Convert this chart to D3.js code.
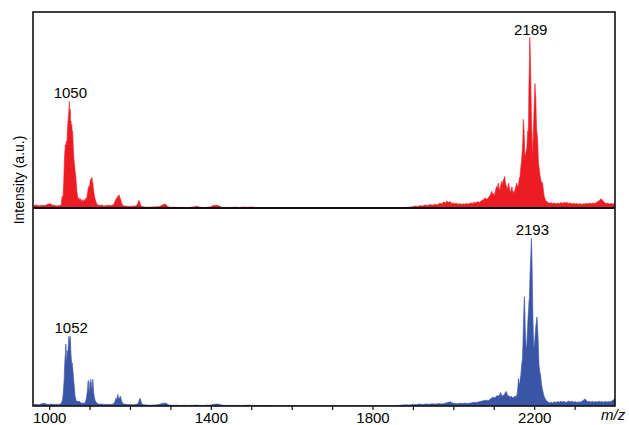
<!DOCTYPE html>
<html>
<head>
<meta charset="utf-8">
<script src="https://cdn.jsdelivr.net/npm/d3@7"></script>
<style>
  html, body { margin: 0; padding: 0; background: #fff; }
  svg { display: block; font-family: "Liberation Sans", Arial, sans-serif; }
</style>
</head>
<body>
<svg id="chart" width="629" height="425"></svg>
<script>
// ---------- data (m/z, relative intensity) ----------
const redSpectrum = [
[960,0],[962,1.5],[968,1.8],[975,1.2],[982,1.6],[990,1.4],[996,2.2],[1002,2.5],[1008,1.8],[1014,1.5],[1020,1.2],[1026,1.4],[1030,2],
[1032,7],[1034,5],[1036,15],[1038,30],[1040,37],[1041,34],[1042,39],[1044,38],[1045,45],[1047,52],[1048,55],[1049,58],[1050,62.5],[1051,55],[1052,58],[1053,50],[1054,51],[1055,47],[1056,49],[1057,44],[1058,45],[1059,40],[1060,34],[1061,30],[1062,27],[1064,22],[1066,18],[1067,15],[1068,11],[1070,7],[1072,5],[1074,6],[1075,4],[1077,5.5],[1079,3.5],[1081,5],[1083,4.5],[1085,3.6],[1087,5],[1089,4.2],[1091,6],[1093,5.5],[1095,9],[1097,12],[1099,13],[1100,11],[1101,15],[1103,17],[1104,16],[1106,18],[1107,14],[1108,15],[1110,10],[1112,7],[1114,5],[1116,3.5],[1118,2.5],[1120,1.8],
[1125,1.5],[1130,1.8],[1135,1.2],[1140,1.3],[1145,1.6],[1150,1.4],[1155,1.5],[1160,2.2],[1163,4],[1166,5.5],[1168,6],[1170,7],[1172,6.5],[1173,7.8],[1175,6],[1177,5],[1179,3],[1181,2],[1184,1.2],[1190,1.2],[1196,0.9],[1202,1],[1208,1.1],[1214,1.2],[1218,2],[1220,3],[1222,4.5],[1224,3.5],[1226,2],[1228,1],
[1235,0.6],[1245,0.5],[1255,0.6],[1265,0.7],[1272,0.8],[1278,1.5],[1282,2],[1286,2.3],[1290,1.8],[1294,0.8],[1300,0.4],[1310,0.5],[1320,0.3],[1330,0.4],[1340,0.3],[1350,0.4],[1360,0.8],[1366,1.1],[1372,0.5],[1380,0.3],[1390,0.4],[1400,0.8],[1406,1.4],[1412,1.6],[1418,1.4],[1424,0.8],[1430,0.3],[1440,0.4],[1450,0.3],[1460,0.5],[1470,0.3],[1480,0.6],[1490,0.4],[1500,0.6],[1510,0.4],[1520,0.2],[1540,0.2],[1560,0.1],[1580,0.2],[1600,0.1],[1620,0.15],[1640,0.1],[1660,0.2],[1680,0.1],[1700,0.1],[1720,0.15],[1740,0.1],[1760,0.1],[1780,0.15],[1800,0.1],[1820,0.15],[1840,0.1],[1860,0.2],[1880,0.3],[1890,0.5],
[1900,0.8],[1906,1.2],[1912,0.9],[1918,1.5],[1924,1.2],[1930,1.8],[1936,1.4],[1942,2],[1948,1.6],[1954,2.2],[1960,1.8],[1966,2.8],[1972,2.4],[1976,3.6],[1980,3],[1984,4],[1988,3.2],[1992,3.8],[1996,2.6],[2000,3],[2004,2.4],[2008,2.8],[2012,2.2],[2016,2.6],[2020,2.1],[2024,2.5],[2028,2.2],[2032,2.7],[2036,2.3],[2040,2.6],[2044,3],
[2048,2.7],[2052,3.4],[2056,3],[2060,3.8],[2064,3.2],[2068,4],[2072,4.6],[2076,5.2],[2079,6],[2082,5],[2085,5.6],[2088,6.5],[2091,7.5],[2093,8.6],[2095,9.8],[2097,8],[2099,8.5],[2101,7.2],[2103,9],[2105,11],[2107,12.7],[2109,11],[2111,14.6],[2113,12],[2115,10],[2117,13],[2119,15.6],[2121,13],[2123,16],[2125,17],[2127,18.5],[2129,15],[2131,13],[2133,11],[2135,12.6],[2137,14.6],[2139,11.5],[2141,9],[2143,10.5],[2145,12.5],[2147,8.5],[2149,10],[2151,9],[2153,11],[2155,13],[2157,14.6],[2159,12.5],[2161,13],[2163,17],[2165,18.5],[2167,24],[2169,28],[2171,36],[2172,40],[2173,52],[2174,50],[2175,45],[2176,38],[2177,30],[2179,32],[2181,34],[2182,36],[2184,45],[2185,44],[2186,50],[2187,72],[2188,81],[2189,100],[2190,95],[2191,85],[2192,72],[2193,56],[2194,48],[2195,40],[2196,30],[2197,36],[2198,45],[2199,52],[2200,60],[2201,67],[2202,73],[2203,68],[2204,65],[2205,55],[2206,46],[2207,44],[2208,42],[2209,38],[2210,30],[2211,26],[2213,22],[2215,18.5],[2217,16],[2219,15],[2221,14.6],[2223,10],[2225,6.8],[2228,4.5],[2231,3.9],[2234,3.2],[2238,2.8],
[2242,3.1],[2246,2.6],[2250,3],[2254,2.4],[2258,2.9],[2262,2.5],[2266,3.2],[2270,2.7],[2274,3.4],[2278,2.9],[2282,3.3],[2286,2.6],[2290,3],[2294,2.4],[2298,2.8],[2302,2.3],[2306,2.7],[2310,2.2],[2314,2.6],[2318,2.1],[2322,2.5],[2326,2.3],[2330,2.8],[2334,2.4],[2338,2.9],[2342,2.5],[2346,3],[2350,2.6],[2354,3.3],[2358,3.8],[2362,4.5],[2366,5.4],[2370,4.2],[2374,3.2],[2378,2.6],[2382,2.9],[2386,2.3],[2390,2.7],[2394,2.4],[2398,2.6],[2400,2.5]
];

const blueSpectrum = [
[960,0],[962,0.8],[968,1],[974,0.7],[980,1.2],[986,1.6],[990,1.4],[994,1],[1000,0.9],[1006,1.1],[1012,0.8],[1018,1],[1024,0.9],[1030,1.5],
[1033,3.5],[1035,8],[1037,15],[1038,22],[1039,27],[1040,30],[1041,36],[1042,33],[1043,25],[1044,28],[1045,32],[1046,30],[1047,34],[1048,38],[1049,40.5],[1050,38],[1051,36],[1052,40.5],[1053,36],[1054,30],[1055,27],[1056,24],[1057,25],[1058,23],[1059,20],[1060,17],[1061,14],[1062,12],[1063,9],[1064,6],[1066,4],[1068,2.5],[1070,3],[1072,2.5],[1074,2.9],[1077,2.2],[1080,1.6],[1083,1.8],[1086,1.5],[1089,2],
[1091,3.5],[1093,6],[1095,10],[1096,14],[1097,15],[1098,10],[1099,7.5],[1100,10],[1101,14],[1102,12],[1103,15.5],[1104,14],[1105,10],[1106,9.3],[1107,12],[1108,15.5],[1109,13],[1110,8],[1112,5],[1114,3],[1117,2],[1120,1.3],
[1125,1],[1130,1.2],[1135,0.9],[1140,1],[1145,0.8],[1150,1],[1155,0.9],[1160,1.4],[1163,2.8],[1165,4.5],[1167,3.8],[1169,5.5],[1170,6.8],[1171,5.5],[1173,4.2],[1175,5],[1176,5.8],[1178,4],[1180,2.5],[1183,1.3],[1188,1],[1195,0.8],[1200,0.9],[1206,0.7],[1212,0.9],[1218,1.2],[1221,2],[1223,3.6],[1225,4.5],[1227,3],[1229,1.5],[1232,0.8],
[1240,0.6],[1250,0.5],[1260,0.6],[1270,0.8],[1276,1.2],[1280,1.6],[1284,1.5],[1288,1.7],[1292,1.2],[1296,0.6],[1305,0.4],[1315,0.5],[1325,0.3],[1335,0.4],[1345,0.3],[1355,0.4],[1365,0.6],[1372,0.4],[1380,0.3],[1390,0.5],[1400,0.6],[1408,1],[1414,1.2],[1420,1],[1426,0.6],[1435,0.3],[1445,0.4],[1455,0.3],[1465,0.4],[1475,0.3],[1485,0.4],[1495,0.5],[1505,0.3],[1520,0.2],[1540,0.3],[1560,0.2],[1580,0.2],[1600,0.15],[1620,0.2],[1640,0.15],[1660,0.2],[1680,0.1],[1700,0.15],[1720,0.1],[1740,0.15],[1760,0.1],[1780,0.15],[1800,0.1],[1820,0.2],[1840,0.15],[1860,0.3],[1870,0.5],[1880,0.7],[1890,0.6],
[1900,0.9],[1908,0.8],[1916,1.1],[1924,0.9],[1932,1.2],[1940,1],[1948,1.3],[1956,1.1],[1964,1.4],[1972,1.2],[1980,1.6],[1986,2.1],[1992,2.4],[1998,1.8],[2004,1.5],[2010,1.3],[2016,1.6],[2022,1.4],[2028,1.7],[2034,1.5],[2040,1.6],[2046,1.9],[2052,2.2],[2058,2],[2064,2.5],[2070,2.8],[2076,3.2],[2082,3.4],[2086,3],[2090,3.8],[2094,4.5],[2098,5.2],[2102,4.6],[2106,5.6],[2110,6.2],[2113,5.5],[2115,6.8],[2117,7.8],[2119,6.5],[2121,5.8],[2124,6.2],[2127,7],[2129,8],[2131,8.5],[2133,7],[2135,6],[2138,5.8],[2141,5.2],[2144,5.6],[2147,4.8],[2150,5.2],[2153,5.6],[2156,5.5],[2158,7],
[2160,12],[2161,15.9],[2162,14],[2163,12],[2164,13],[2165,14.9],[2167,18],[2169,24],[2171,27.5],[2172,35],[2173,43],[2174,52],[2175,60],[2176,63.4],[2177,55],[2178,45],[2179,39],[2180,35],[2181,32.4],[2182,36],[2183,42],[2184,47],[2185,52],[2186,55],[2187,60],[2188,62.4],[2189,70],[2190,78],[2191,83.7],[2192,90],[2193,97.5],[2194,92],[2195,80],[2196,65],[2197,51],[2198,42],[2199,36],[2200,33.3],[2201,36],[2202,40],[2203,43],[2204,46],[2205,48],[2206,50],[2207,51.7],[2208,48],[2209,43],[2210,38],[2211,30],[2212,23.6],[2214,20],[2216,17.8],[2218,13],[2220,10],[2222,8.1],[2224,6],[2227,4.3],[2230,3.2],[2234,2.4],[2238,1.9],
[2242,2.2],[2246,1.8],[2250,2.5],[2254,2],[2258,2.6],[2262,2.2],[2266,2.8],[2270,2.3],[2274,2.7],[2278,2.1],[2282,2.5],[2286,2.9],[2290,2.4],[2294,2.8],[2298,2.2],[2302,2.6],[2306,2.1],[2310,2.5],[2314,2.2],[2318,2.7],[2322,3.4],[2326,4.1],[2329,3.2],[2332,2.5],[2336,2.8],[2340,2.3],[2344,2.7],[2348,2.2],[2352,2.6],[2356,2.3],[2360,2.8],[2364,2.4],[2368,2.6],[2372,2.2],[2376,2.7],[2380,2.3],[2384,2.6],[2388,2.4],[2392,2.9],[2396,3.5],[2400,4.3]
];

const redPeakLabels = [1050, 2189];
const bluePeakLabels = [1052, 2193];
const xTickValues = [1000,1100,1200,1300,1400,1500,1600,1700,1800,1900,2000,2100,2200,2300];
const xTickLabels = [1000, 1400, 1800, 2200];
const xDomain = [960, 2400];
const yDomain = [0, 115];
const yAxisTitle = "Intensity (a.u.)";
const xAxisTitle = "m/z";

// ---------- layout ----------
const plotL = 33, plotR = 615, plotT = 12, plotM = 208, plotB = 406;
const svg = d3.select("#chart");

const x = d3.scaleLinear().domain(xDomain).range([plotL, plotR]);
const yRed = d3.scaleLinear().domain(yDomain).range([plotM, plotT]);
const yBlue = d3.scaleLinear().domain(yDomain).range([plotB, plotM]);

svg.append("defs").append("clipPath").attr("id", "plotclip")
  .append("rect").attr("x", plotL).attr("y", plotT).attr("width", plotR - plotL).attr("height", plotB - plotT);

function drawSpectrum(data, y, color) {
  const area = d3.area()
    .x(d => x(d[0]))
    .y0(y(0))
    .y1(d => y(d[1]))
    .curve(d3.curveLinear);
  svg.append("path")
    .datum(data)
    .attr("clip-path", "url(#plotclip)")
    .attr("d", area)
    .attr("fill", color)
    .attr("stroke", color)
    .attr("stroke-width", 0.6);
}

drawSpectrum(redSpectrum, yRed, "#ec1c24");
drawSpectrum(blueSpectrum, yBlue, "#3b55a6");

function peakLabels(data, labels, y) {
  labels.forEach(mz => {
    const pt = data.find(d => d[0] === mz);
    svg.append("text")
      .attr("x", x(mz) + 1)
      .attr("y", y(pt[1]) - 3)
      .attr("text-anchor", "middle")
      .attr("font-size", 15)
      .attr("fill", "#000")
      .text(String(mz));
  });
}
peakLabels(redSpectrum, redPeakLabels, yRed);
peakLabels(blueSpectrum, bluePeakLabels, yBlue);

// frame
svg.append("rect")
  .attr("x", plotL).attr("y", plotT)
  .attr("width", plotR - plotL).attr("height", plotB - plotT)
  .attr("fill", "none").attr("stroke", "#111").attr("stroke-width", 1.6);
svg.append("line")
  .attr("x1", plotL).attr("x2", plotR)
  .attr("y1", plotM).attr("y2", plotM)
  .attr("stroke", "#111").attr("stroke-width", 2);

// x axis
const xAxis = d3.axisBottom(x)
  .tickValues(xTickValues)
  .tickSize(4)
  .tickPadding(2)
  .tickFormat(d => xTickLabels.includes(d) ? String(d) : "");
const gx = svg.append("g").attr("transform", `translate(0,${plotB})`).call(xAxis);
gx.select(".domain").remove();
gx.selectAll(".tick line").attr("stroke", "#111").attr("stroke-width", 1.2);
gx.selectAll(".tick text").attr("font-size", 15).attr("fill", "#000")
  .attr("font-family", "Liberation Sans, Arial, sans-serif");

svg.append("text")
  .attr("x", 601).attr("y", 420)
  .attr("font-size", 15).attr("font-style", "italic").attr("fill", "#000")
  .text(xAxisTitle);

// y title
svg.append("text")
  .attr("transform", "translate(23.5,180) rotate(-90)")
  .attr("text-anchor", "middle")
  .attr("font-size", 14).attr("fill", "#000")
  .text(yAxisTitle);
</script>
</body>
</html>
